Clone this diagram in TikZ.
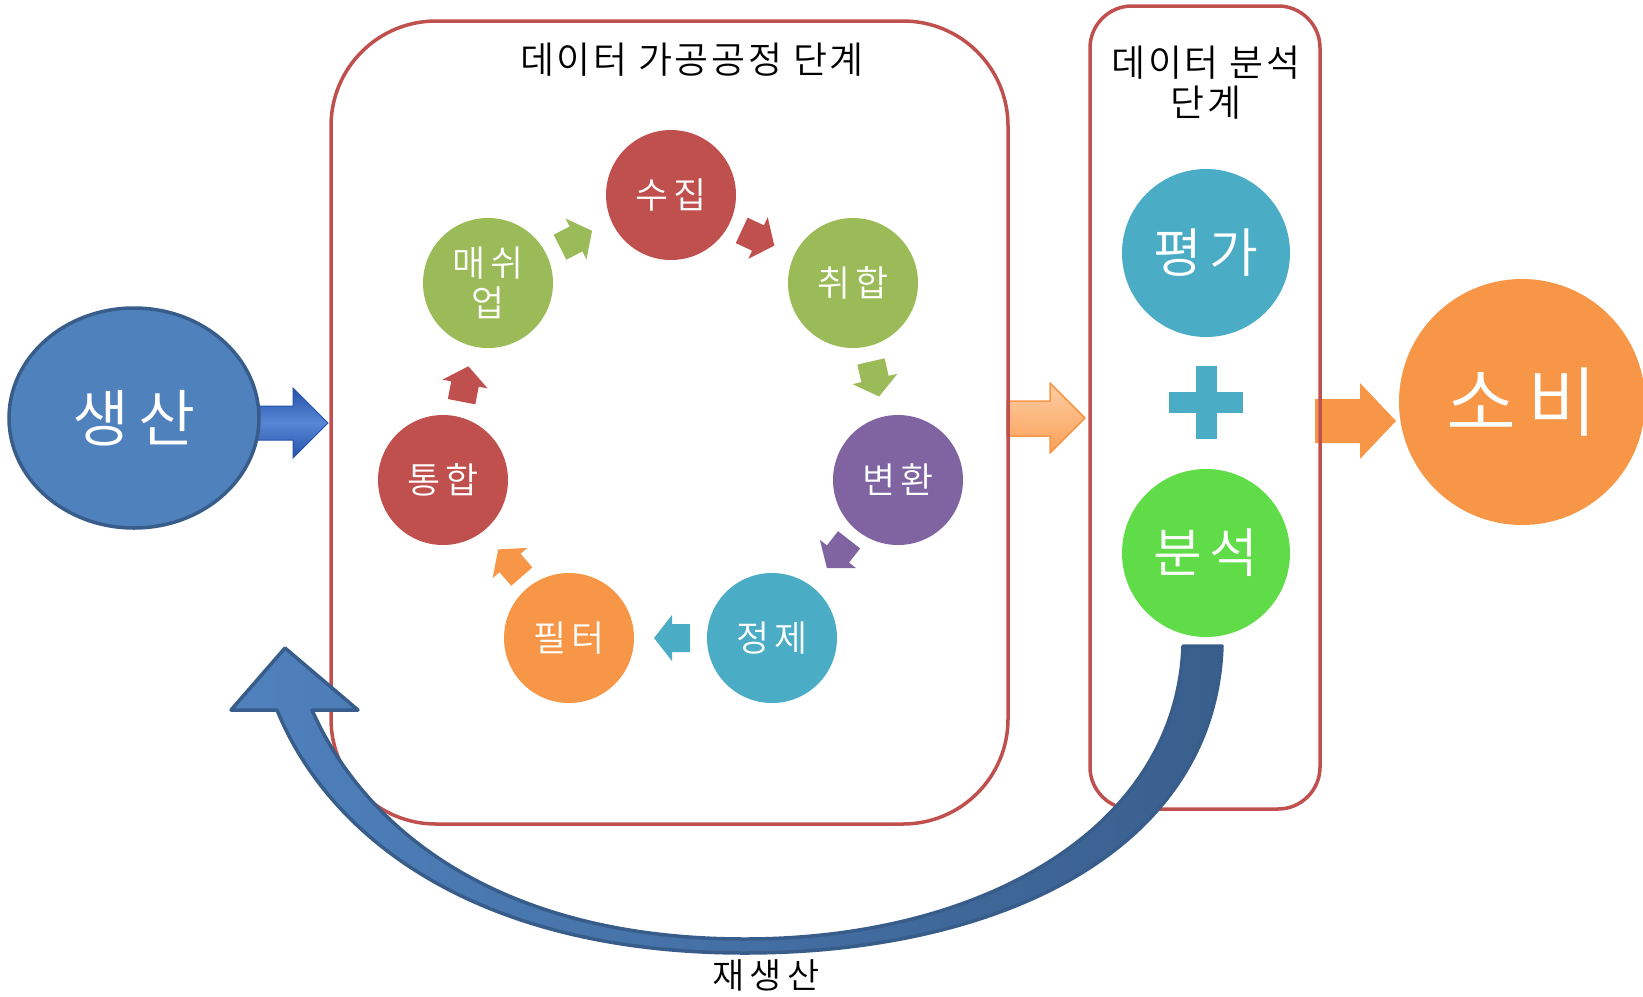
\documentclass[tikz,border=0pt]{standalone}
\usepackage{fontspec}
\setmainfont{Noto Sans CJK KR DemiLight}
\newfontfamily\korW{Noto Sans CJK KR DemiLight}[LetterSpace=14]
\newfontfamily\korM{Noto Sans CJK KR DemiLight}[LetterSpace=14]
\newfontfamily\korT{Noto Sans CJK KR DemiLight}[LetterSpace=7]
\usetikzlibrary{shapes.geometric}
\definecolor{cRed}{HTML}{C0504D}
\definecolor{cGreen}{HTML}{9BBB59}
\definecolor{cPurple}{HTML}{8064A2}
\definecolor{cTeal}{HTML}{4BACC6}
\definecolor{cOrange}{HTML}{F79646}
\definecolor{cLime}{HTML}{5FDC48}
\definecolor{cBlue}{HTML}{4F81BD}
\definecolor{cBlueDark}{HTML}{385D8A}
\definecolor{cBlueArrow}{HTML}{2F69CC}
\definecolor{cBlueArrowDark}{HTML}{2352A8}
\definecolor{cOrangeLight}{HTML}{FFCDA3}
\begin{document}
\begin{tikzpicture}[x=1pt,y=-1pt,
  cyc/.style={circle, minimum size=130pt, inner sep=0pt, text=white,
    font=\korW\fontsize{36}{44}\selectfont, align=center},
  big/.style={circle, minimum size=168pt, inner sep=0pt, text=white,
    font=\korW\fontsize{53}{56}\selectfont},
  frame/.style={draw=cRed, line width=3.5pt},
  title/.style={font=\korT\fontsize{37}{44}\selectfont, align=center, text=black},
  smallarrow/.style={fill=#1}
]
\useasboundingbox (0,0) rectangle (1643,996);

% straight block arrows (behind boxes)
\path[draw=cBlueArrowDark, line width=1pt, top color=cBlueArrowDark, bottom color=cBlueArrowDark, middle color=cBlueArrow!80!white]
  (250,406) -- (293,406) -- (293,388) -- (328,423) -- (293,458) -- (293,440) -- (250,440) -- cycle;
\path[draw=cOrange, line width=1.5pt, line join=round, top color=cOrangeLight, bottom color=cOrange!90!white]
  (1007,401) -- (1050,401) -- (1050,383) -- (1085,418) -- (1050,453) -- (1050,436) -- (1007,436) -- cycle;
\path[fill=cOrange]
  (1315,399) -- (1360,399) -- (1360,383) -- (1396,421) -- (1360,459) -- (1360,443) -- (1315,443) -- cycle;

% frames
\draw[frame, rounded corners=105pt] (331,21) rectangle (1008,824);
\draw[frame, rounded corners=42pt] (1090,6) rectangle (1320,809);

\node[title] (t1) at (692,60) {데이터 가공공정 단계};
\node[title] (t2) at (1206,83) {데이터 분석\\[-4pt]단계};

% production ellipse
\node[ellipse, draw=cBlueDark, line width=3.5pt, fill=cBlue, minimum width=250pt, minimum height=220pt,
  text=white, font=\korW\fontsize{62}{66}\selectfont] (prod) at (134,418) {생산};

% cycle circles
\node[cyc, fill=cRed] (c1) at (671,195) {수집};
\node[cyc, fill=cGreen] (c2) at (853,283) {취합};
\node[cyc, fill=cPurple] (c3) at (898,480) {변환};
\node[cyc, fill=cTeal] (c4) at (772,638) {정제};
\node[cyc, fill=cOrange] (c5) at (569,638) {필터};
\node[cyc, fill=cRed] (c6) at (443,480) {통합};
\node[cyc, fill=cGreen] (c7) at (488,283) {매쉬\\[-4pt]업};

% small cycle arrows
\foreach \cx/\cy/\ang/\col in {576/239/27/cGreen, 758/238/-25/cRed, 875/379/-77/cGreen,
    838/554/-128/cPurple, 672/638/180/cTeal, 510/563/131/cOrange, 465/384/79/cRed}{
  \path[smallarrow=\col, shift={(\cx,\cy)}, rotate=\ang]
    (-18,-14) -- (0,-14) -- (0,-23) -- (18,0) -- (0,23) -- (0,14) -- (-18,14) -- cycle;
}

% analysis stage
\node[big, fill=cTeal] (eval) at (1206,253) {평가};
\node[big, fill=cLime] (anal) at (1206,553) {분석};
\fill[cTeal] (1195.5,366) rectangle (1216.5,439);
\fill[cTeal] (1169,391.5) rectangle (1243,412.5);

% consumption
\node[circle, fill=cOrange, minimum size=246pt, inner sep=0pt, text=white,
  font=\korW\fontsize{76}{80}\selectfont] (cons) at (1522,402) {소비};

% curved feedback arrow
\path[draw=cBlueDark, line width=3.5pt, line join=round, left color=cBlue, right color=cBlueDark!95!cBlue]
  (1222,646) .. controls (1215,850) and (1000,953) .. (745,953)
  .. controls (480,953) and (330,840) .. (277,710)
  -- (231,710) -- (285,648) -- (358,710) -- (312,710)
  .. controls (365,830) and (500,939) .. (745,939)
  .. controls (980,939) and (1176,830) .. (1183,646) -- cycle;

\node[font=\korM\fontsize{35}{40}\selectfont, text=black] (re) at (766,975) {재생산};
\end{tikzpicture}
\end{document}
